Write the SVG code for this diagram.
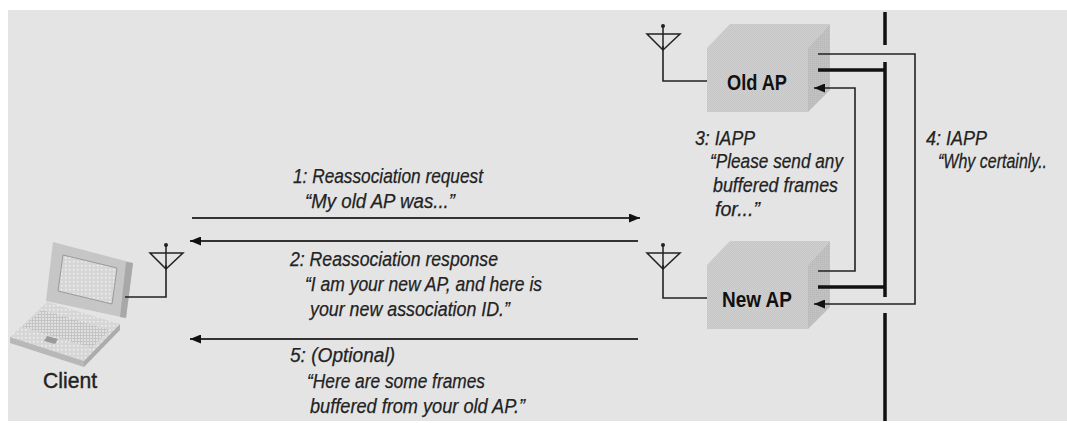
<svg xmlns="http://www.w3.org/2000/svg" width="1067" height="423" viewBox="0 0 1067 423">
  <style>
    .lbl { font-family: "Liberation Sans", Arial, sans-serif; font-style: italic; font-size: 20px; fill: #222; stroke: #222; stroke-width: 0.25; }
    .ap { font-family: "Liberation Sans", Arial, sans-serif; font-weight: bold; font-size: 22px; fill: #111; }
    .name { font-family: "Liberation Sans", Arial, sans-serif; font-size: 22px; fill: #222; stroke: #222; stroke-width: 0.4; }
    .wire { fill: none; stroke: #222; stroke-width: 1.6; }
    .msg { fill: none; stroke: #333; stroke-width: 2; }
    .trunk { fill: none; stroke: #111; stroke-width: 3.5; }
    .ant { fill: none; stroke: #222; stroke-width: 1.5; }
  </style>
  <defs>
    <marker id="head" viewBox="0 0 11 9" refX="11" refY="4.5" markerWidth="11" markerHeight="9" markerUnits="userSpaceOnUse" orient="auto">
      <path d="M0,0 L11,4.5 L0,9 Z" fill="#111"/>
    </marker>
    <pattern id="dither" width="2" height="2" patternUnits="userSpaceOnUse">
      <rect width="2" height="2" fill="#c6c6c6"/>
      <rect width="1" height="1" fill="#cfcfcf"/>
      <rect x="1" y="1" width="1" height="1" fill="#cfcfcf"/>
    </pattern>
    <pattern id="ditherDark" width="2" height="2" patternUnits="userSpaceOnUse">
      <rect width="2" height="2" fill="#bcbcbc"/>
      <rect width="1" height="1" fill="#c6c6c6"/>
    </pattern>
    <pattern id="dots" width="4" height="4" patternUnits="userSpaceOnUse">
      <rect width="4" height="4" fill="#d6d6d6"/>
      <rect x="1" y="1" width="1.5" height="1.5" fill="#f0f0f0"/>
    </pattern>
    <pattern id="keys" width="3" height="3" patternUnits="userSpaceOnUse">
      <rect width="3" height="3" fill="#c4c4c4"/>
      <rect width="2" height="2" fill="#e0e0e0"/>
    </pattern>
    <!-- antenna head: dot, short mast top, bar and V -->
    <g id="antenna">
      <circle cx="0" cy="0" r="2" fill="#222"/>
      <path class="ant" d="M0,0 V24 M-16,8 H17 L0,24 Z"/>
    </g>
    <!-- access point box, origin at front-face top-left -->
    <g id="apBox">
      <polygon points="0,0 23,-24 123,-24 101,0" fill="url(#dither)"/>
      <polygon points="101,0 123,-24 123,42 101,64" fill="url(#ditherDark)"/>
      <rect x="0" y="0" width="101" height="64" fill="url(#dither)"/>
    </g>
  </defs>

  <!-- panel -->
  <rect x="0" y="0" width="1067" height="423" fill="#ffffff"/>
  <rect x="8" y="10" width="1059" height="411" fill="#e4e4e4"/>

  <!-- distribution system backbone -->
  <g id="backbone">
    <path class="trunk" d="M885,12 V45 M885,62 V297 M885,313 V421"/>
  </g>

  <!-- client laptop -->
  <g id="client">
    <polygon points="47,302 120,324 84,361 10,337" fill="url(#dots)"/>
    <polygon points="10,337 84,361 84,367 10,343" fill="#b8b8b8"/>
    <polygon points="84,361 120,324 120,330 84,367" fill="#acacac"/>
    <polygon points="42,310 110,330 92,348 22,327" fill="url(#keys)"/>
    <polygon points="47,336 58,339 55,344 44,341" fill="#9a9a9a"/>
    <polygon points="53,242 133,263 126,318 46,301" fill="#c6c6c6"/>
    <polygon points="126,262 133,263 126,318 120,317" fill="#a8a8a8"/>
    <polygon points="63,255 117,268 112,304 58,291" fill="url(#dots)" stroke="#9a9a9a" stroke-width="1"/>
    <use href="#antenna" x="166" y="245"/>
    <path class="wire" d="M125,297 H166 V265"/>
    <text class="name" x="43" y="388" textLength="54" lengthAdjust="spacingAndGlyphs">Client</text>
  </g>

  <!-- old access point -->
  <g id="old-ap">
    <use href="#apBox" x="707" y="48"/>
    <use href="#antenna" x="663" y="26"/>
    <path class="wire" d="M663,46 V81 H707"/>
    <text class="ap" x="727" y="90" textLength="60" lengthAdjust="spacingAndGlyphs">Old AP</text>
  </g>

  <!-- new access point -->
  <g id="new-ap">
    <use href="#apBox" x="707" y="265"/>
    <use href="#antenna" x="663" y="245"/>
    <path class="wire" d="M663,265 V298 H707"/>
    <text class="ap" x="722" y="307" textLength="70" lengthAdjust="spacingAndGlyphs">New AP</text>
  </g>

  <!-- connectors -->
  <g id="connectors">
    <path class="trunk" d="M818,70 H885"/>
    <path class="trunk" d="M818,287 H885"/>
    <path class="msg" d="M192,218 H640" marker-end="url(#head)"/>
    <path class="msg" d="M638,241 H190" marker-end="url(#head)"/>
    <path class="msg" d="M638,339 H190" marker-end="url(#head)"/>
    <path class="wire" d="M818,271 H855 V88 H814" marker-end="url(#head)"/>
    <path class="wire" d="M818,54 H915 V304 H814" marker-end="url(#head)"/>
  </g>

  <!-- message labels -->
  <g id="label-1">
    <text class="lbl" x="293" y="183" textLength="190" lengthAdjust="spacingAndGlyphs">1: Reassociation request</text>
    <text class="lbl" x="305" y="208" textLength="150" lengthAdjust="spacingAndGlyphs">“My old AP was...”</text>
  </g>
  <g id="label-2">
    <text class="lbl" x="290" y="266" textLength="208" lengthAdjust="spacingAndGlyphs">2: Reassociation response</text>
    <text class="lbl" x="305" y="291" textLength="237" lengthAdjust="spacingAndGlyphs">“I am your new AP, and here is</text>
    <text class="lbl" x="310" y="316" textLength="200" lengthAdjust="spacingAndGlyphs">your new association ID.”</text>
  </g>
  <g id="label-5">
    <text class="lbl" x="290" y="362" textLength="105" lengthAdjust="spacingAndGlyphs">5: (Optional)</text>
    <text class="lbl" x="307" y="388" textLength="178" lengthAdjust="spacingAndGlyphs">“Here are some frames</text>
    <text class="lbl" x="310" y="413" textLength="215" lengthAdjust="spacingAndGlyphs">buffered from your old AP.”</text>
  </g>
  <g id="label-3">
    <text class="lbl" x="695" y="145" textLength="60" lengthAdjust="spacingAndGlyphs">3: IAPP</text>
    <text class="lbl" x="710" y="168" textLength="133" lengthAdjust="spacingAndGlyphs">“Please send any</text>
    <text class="lbl" x="713" y="192" textLength="125" lengthAdjust="spacingAndGlyphs">buffered frames</text>
    <text class="lbl" x="715" y="216" textLength="45" lengthAdjust="spacingAndGlyphs">for...”</text>
  </g>
  <g id="label-4">
    <text class="lbl" x="926" y="145" textLength="61" lengthAdjust="spacingAndGlyphs">4: IAPP</text>
    <text class="lbl" transform="translate(938,168) scale(0.8,1)" x="0" y="0">“Why certainly..</text>
  </g>
</svg>
